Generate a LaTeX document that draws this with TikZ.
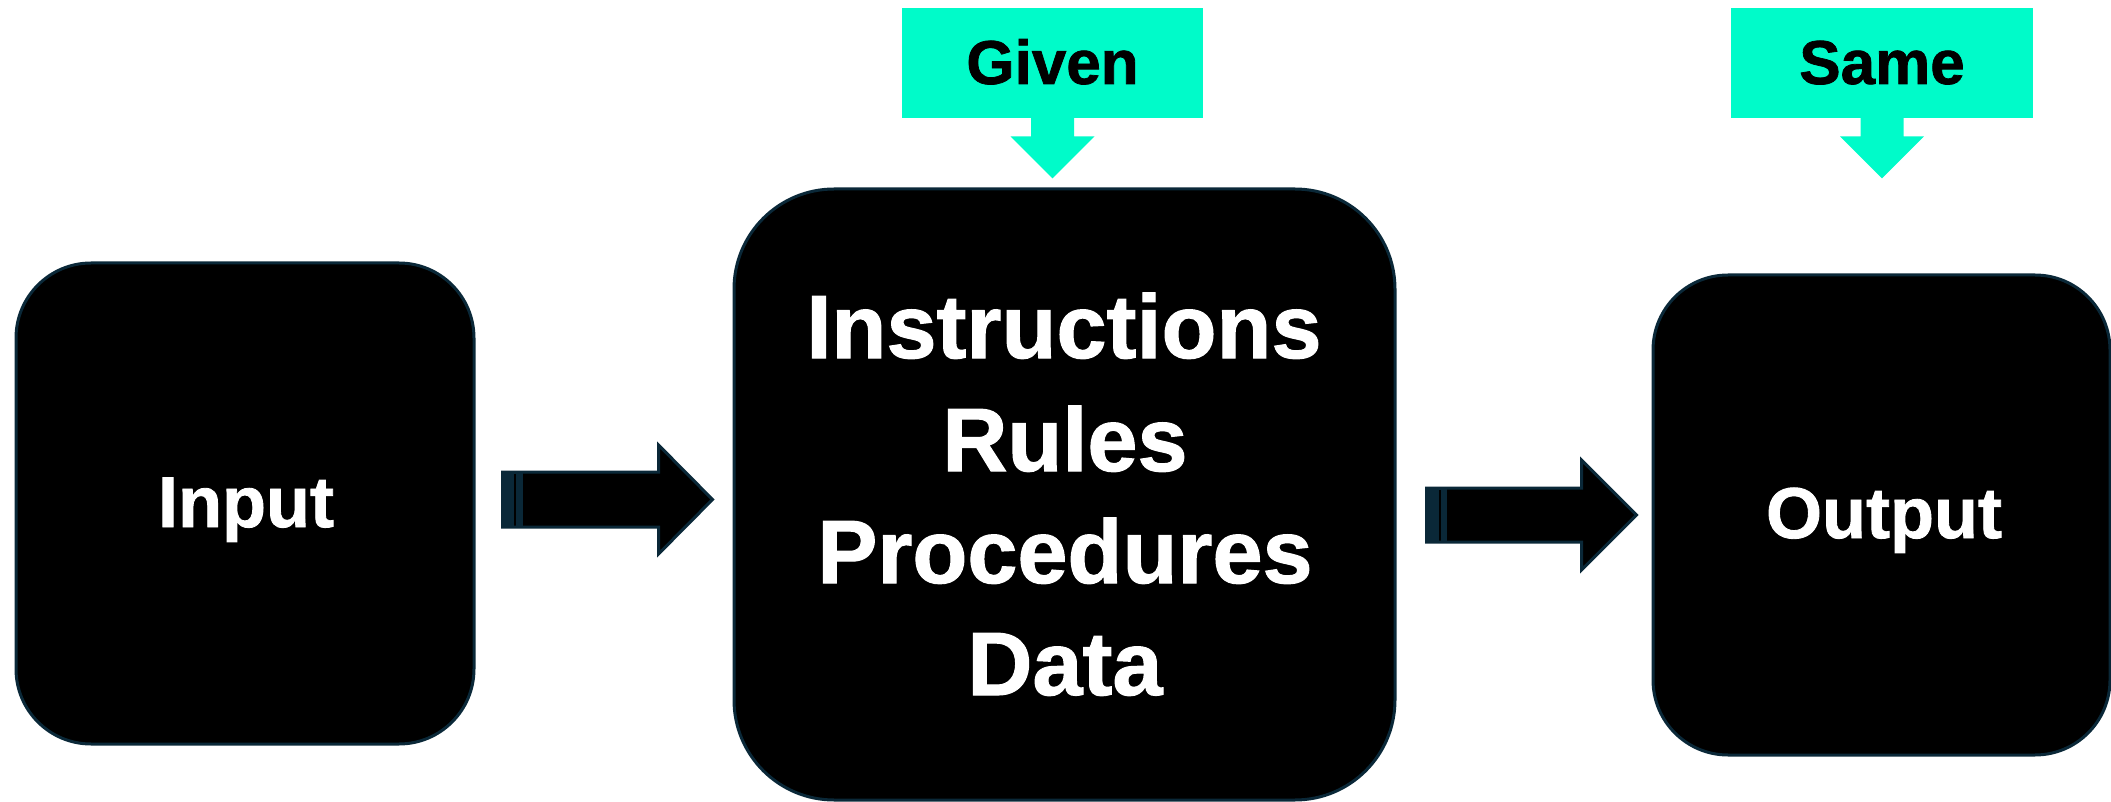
\documentclass[tikz,border=0pt]{standalone}
\usepackage{fontspec}
\setmainfont{Liberation Sans}
\newfontfamily\heavy{Liberation Sans Bold}[FakeBold=1.2]
\usetikzlibrary{calc}
\definecolor{navy}{RGB}{10,40,56}
\definecolor{mint}{RGB}{0,251,201}
\begin{document}
\begin{tikzpicture}[x=0.5pt,y=-0.5pt,
  box/.style={draw=navy, line width=1.5pt, fill=black, rectangle, inner sep=0pt},
  tag/.style={fill=mint, rectangle, inner sep=0pt, minimum height=55pt},
  wtext/.style={text=white, inner sep=0pt, anchor=base},
  btext/.style={text=black, inner sep=0pt, anchor=base, font=\heavy\fontsize{31}{36}\selectfont},
  bigtext/.style={wtext, font=\heavy\fontsize{45}{52}\selectfont},
  midtext/.style={wtext, font=\heavy\fontsize{36}{42}\selectfont},
  blockarrow/.style={fill=black, draw=navy, line width=1.5pt, line join=miter},
  tagarrow/.style={fill=mint}]
\useasboundingbox (0,0) rectangle (2111,802);

% boxes
\node[box, rounded corners=37.5pt, minimum width=229pt, minimum height=240.5pt] (in) at (245,503.5) {};
\node[box, rounded corners=50pt, minimum width=330.5pt, minimum height=305.5pt] (mid) at (1064.5,494.5) {};
\node[box, rounded corners=37.5pt, minimum width=228.5pt, minimum height=240pt] (out) at (1881.5,515) {};

% texts
\node[midtext] (intext) at (246,527) {Input};
\node[midtext] (outtext) at (1884,538) {Output};
\node[bigtext] (t1) at (1064,358) {Instructions};
\node[bigtext] (t2) at (1065,471) {Rules};
\node[bigtext] (t3) at (1065,583) {Procedures};
\node[bigtext] (t4) at (1065,695) {Data};

% tags
\node[tag, minimum width=150.5pt] (gv) at (1052.5,63) {};
\node[tag, minimum width=151pt] (sm) at (1882,63) {};
\node[btext] (gvtext) at (1052.5,84) {Given};
\node[btext] (smtext) at (1882,84) {Same};

% tag arrows
\foreach \t in {gv,sm}{
  \fill[tagarrow] ($(\t.south)+(-21.5,-1)$) -- ($(\t.south)+(-21.5,18)$) -- ($(\t.south)+(-42,18)$)
    -- ($(\t.south)+(0,60)$) -- ($(\t.south)+(42,18)$) -- ($(\t.south)+(21.5,18)$)
    -- ($(\t.south)+(21.5,-1)$) -- cycle;
}

% block arrow 1 (in -> mid)
\coordinate (a1) at ($(in.east)+(27,-4)$);
\fill[black] (a1) ++(0,-27.5) -- ++(156,0) -- ++(0,-27) -- ++(54,54.5) -- ++(-54,54.5) -- ++(0,-27) -- ++(-156,0) -- cycle;
\fill[navy] ($(a1)+(0,-27.5)$) rectangle ($(a1)+(20,27.5)$);
\draw[black, line width=1pt] ($(a1)+(12.5,-26)$) -- ($(a1)+(12.5,26)$);
\draw[blockarrow, fill=none] (a1) ++(0,-27.5) -- ++(156,0) -- ++(0,-27) -- ++(54,54.5) -- ++(-54,54.5) -- ++(0,-27) -- ++(-156,0) -- cycle;

% block arrow 2 (mid -> out)
\coordinate (a2) at ($(out.west)+(-225,0)$);
\fill[black] (a2) ++(0,-27) -- ++(155,0) -- ++(0,-28) -- ++(55,55) -- ++(-55,55) -- ++(0,-28) -- ++(-155,0) -- cycle;
\fill[navy] ($(a2)+(0,-27)$) rectangle ($(a2)+(20,27)$);
\draw[black, line width=1pt] ($(a2)+(13.5,-25.5)$) -- ($(a2)+(13.5,25.5)$);
\draw[blockarrow, fill=none] (a2) ++(0,-27) -- ++(155,0) -- ++(0,-28) -- ++(55,55) -- ++(-55,55) -- ++(0,-28) -- ++(-155,0) -- cycle;
\end{tikzpicture}
\end{document}
